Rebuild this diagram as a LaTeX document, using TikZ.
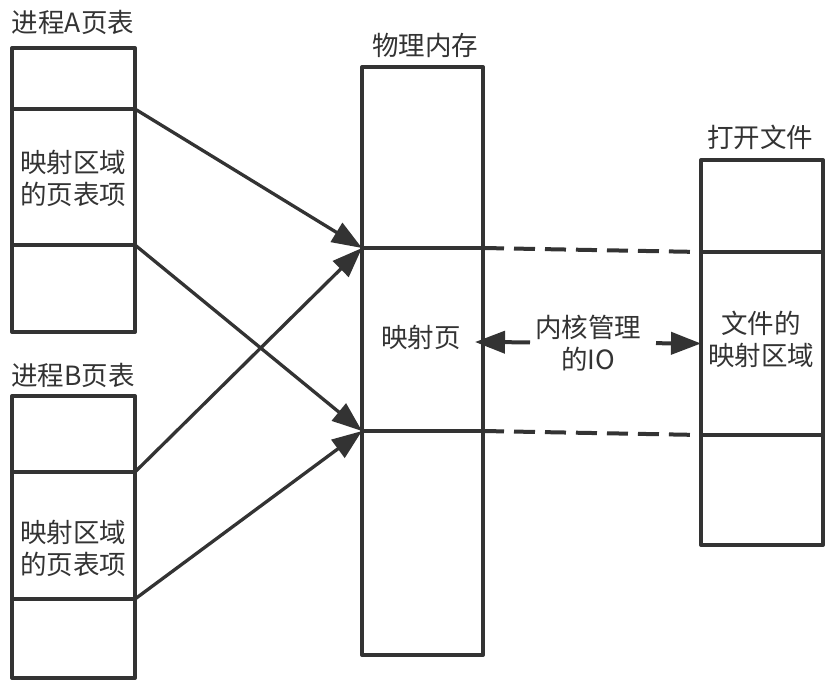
\documentclass[tikz,border=0pt]{standalone}
\usepackage{fontspec}
\setmainfont{Noto Sans CJK SC}
\usetikzlibrary{arrows.meta}
\definecolor{ink}{HTML}{333333}

\begin{document}
\begin{tikzpicture}[x=1pt, y=-1pt, >={Triangle[length=30pt,width=22pt]},
  font=\fontsize{26.5}{32}\selectfont, text=ink,
  cell/.style={draw=ink, line width=4pt, line join=round, rectangle, inner sep=0pt, outer sep=0pt},
  link/.style={draw=ink, line width=3.3pt},
  dashlink/.style={draw=ink, line width=4pt, dash pattern=on 21pt off 10pt}]
	\useasboundingbox (0,0) rectangle (838,686);

	% titles
	\node (ta) at (73,22) {进程A页表};
	\node (tb) at (73,375) {进程B页表};
	\node (tm) at (425,45) {物理内存};
	\node (tf) at (760,137) {打开文件};

	% page table A
	\node[cell, minimum width=123, minimum height=61] (a1) at (73.5,78.5) {};
	\node[cell, minimum width=123, minimum height=136] (a2) at (73.5,177) {};
	\node[cell, minimum width=123, minimum height=87] (a3) at (73.5,288.5) {};
	\node[align=center] (a2t) at (73,178) {映射区域\\的页表项};

	% page table B
	\node[cell, minimum width=123, minimum height=76] (b1) at (73.5,434) {};
	\node[cell, minimum width=123, minimum height=127] (b2) at (73.5,535.5) {};
	\node[cell, minimum width=123, minimum height=79] (b3) at (73.5,638.5) {};
	\node[align=center] (b2t) at (73,548) {映射区域\\的页表项};

	% physical memory
	\node[cell, minimum width=121, minimum height=181] (m1) at (422.5,157.5) {};
	\node[cell, minimum width=121, minimum height=183] (m2) at (422.5,339.5) {};
	\node[cell, minimum width=121, minimum height=224] (m3) at (422.5,543) {};
	\node (m2t) at (421,337) {映射页};

	% open file
	\node[cell, minimum width=122, minimum height=92] (f1) at (762,206) {};
	\node[cell, minimum width=122, minimum height=183] (f2) at (762,343.5) {};
	\node[cell, minimum width=122, minimum height=110] (f3) at (762,490) {};
	\node[align=center] (f2t) at (761,339) {文件的\\映射区域};

	% mappings
	\draw[link,->] (a2.north east) -- (m2.north west);
	\draw[link,->] (a2.south east) -- (m2.south west);
	\draw[link,->] (b2.north east) -- (m2.north west);
	\draw[link,->] (b2.south east) -- (m2.south west);

	\draw[dashlink] (m2.north east) -- (f2.north west);
	\draw[dashlink] (m2.south east) -- (f2.south west);

	\coordinate (ioL) at (475,342);
	\draw[dashlink,<->, dash pattern=on 26pt off 126pt] (ioL) -- (f2.west)
		node[midway, fill=white, align=center, inner sep=3pt] (io) {内核管理\\的IO};
\end{tikzpicture}
\end{document}
